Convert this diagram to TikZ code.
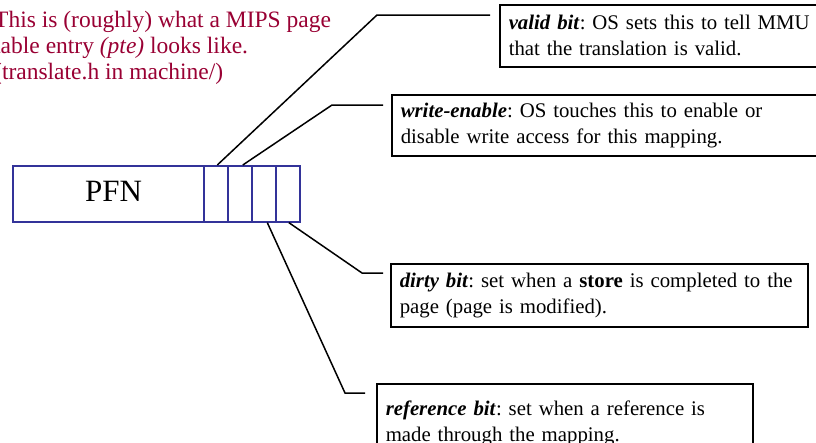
\documentclass[tikz,border=0pt]{standalone}
\usepackage{fontspec}
\setmainfont{Liberation Serif}
\frenchspacing
\definecolor{pteblue}{HTML}{333399}
\definecolor{notered}{HTML}{990033}
\newcommand{\bitname}[1]{\textbf{\textit{#1}}}
\begin{document}
\begin{tikzpicture}[x=1pt,y=-1pt,
  field/.style={draw=pteblue, line width=1.6pt, inner sep=0pt, anchor=north west,
                minimum height=56pt},
  bitcell/.style={field, minimum width=24pt},
  note/.style={draw=black, line width=1.5pt, anchor=north west, inner xsep=9pt,
               inner ysep=8pt, align=left, font=\fontsize{20.8}{26}\selectfont},
  lead/.style={draw=black, line width=1.5pt}]
\useasboundingbox (0,0) rectangle (816,442);

% explanatory caption
\node[anchor=north west, inner sep=0pt, align=left, text=notered,
      font=\fontsize{23.5}{26}\selectfont] (intro) at (-6,11)
  {This is (roughly) what a MIPS page\\
   table entry \textit{(pte)} looks like.\\
   (translate.h in machine/)};

% the page table entry: frame number plus four flag bits
\node[field, minimum width=191pt] (pfn) at (12,165) {};
\node[font=\fontsize{31}{36}\selectfont, anchor=base] (pfnlabel) at (113.5,201) {PFN};
\node[bitcell] (c1) at (203,165) {};
\node[bitcell] (c2) at (227,165) {};
\node[bitcell] (c3) at (251,165) {};
\node[bitcell] (c4) at (275,165) {};

% descriptions of the flag bits
\node[note, text width=315pt, minimum height=62pt] (valid) at (499,4)
  {\bitname{valid bit}: OS sets this to tell MMU\\ that the translation is valid.};
\node[note, text width=420pt, minimum height=61pt] (write) at (391,94)
  {\bitname{write-enable}: OS touches this to enable or\\ disable write access for this mapping.};
\node[note, text width=399pt, minimum height=63pt] (dirty) at (390,263)
  {\bitname{dirty bit}: set when a \textbf{store} is completed to the\\ page (page is modified).};
\node[note, text width=358pt, minimum height=80pt] (refbit) at (376,383)
  {\bitname{reference bit}: set when a reference is\\ made through the mapping.};

% leader lines
\coordinate (vbend) at (377,15);
\coordinate (wbend) at (332,105);
\coordinate (dbend) at (362,273);
\coordinate (rbend) at (345,393);
\draw[lead, shorten >=9pt] ([xshift=1.5pt]c1.north) -- (vbend) -- (vbend -| valid.west);
\draw[lead, shorten >=8pt] ([xshift=3pt]c2.north) -- (wbend) -- (wbend -| write.west);
\draw[lead, shorten >=7pt] ([xshift=1pt]c4.south) -- (dbend) -- (dbend -| dirty.west);
\draw[lead, shorten >=11pt] ([xshift=3.5pt]c3.south) -- (rbend) -- (rbend -| refbit.west);
\end{tikzpicture}
\end{document}
